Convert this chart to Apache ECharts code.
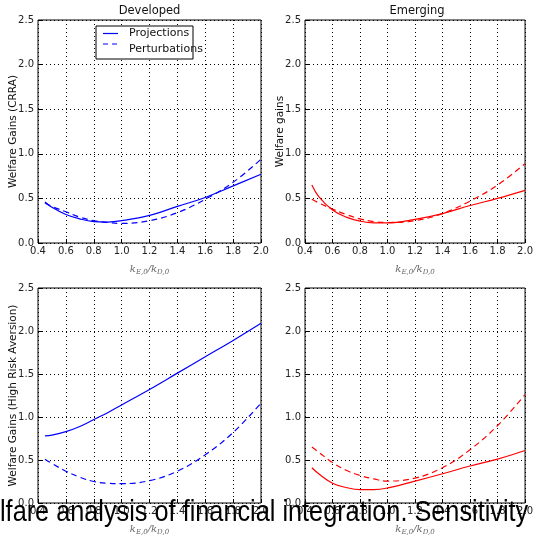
<!DOCTYPE html>
<html><head><meta charset="utf-8">
<script src="https://cdn.jsdelivr.net/npm/echarts@6/dist/echarts.min.js"></script>
<style>html,body{margin:0;padding:0;background:#fff}#c{width:536px;height:537px}</style>
</head><body><div id="c"></div>
<script>
// ratio k_E,0 / k_D,0
const xs = [0.45, 0.5, 0.6, 0.7, 0.8, 0.9, 1.0, 1.2, 1.4, 1.6, 1.8, 2.0];
// Developed, CRRA
const devCrraProj = [0.46, 0.40, 0.32, 0.27, 0.24, 0.235, 0.25, 0.31, 0.41, 0.51, 0.64, 0.77];
const devCrraPert = [0.45, 0.41, 0.35, 0.29, 0.25, 0.23, 0.22, 0.25, 0.34, 0.49, 0.68, 0.94];
// Emerging, CRRA
const emgCrraProj = [0.65, 0.52, 0.37, 0.29, 0.245, 0.225, 0.225, 0.265, 0.33, 0.42, 0.50, 0.59];
const emgCrraPert = [0.49, 0.45, 0.38, 0.32, 0.27, 0.24, 0.23, 0.25, 0.33, 0.47, 0.65, 0.89];
// Developed, high risk aversion
const devHraProj = [0.78, 0.79, 0.83, 0.89, 0.97, 1.05, 1.14, 1.32, 1.51, 1.70, 1.89, 2.09];
const devHraPert = [0.51, 0.46, 0.37, 0.30, 0.25, 0.23, 0.225, 0.26, 0.37, 0.56, 0.82, 1.16];
// Emerging, high risk aversion
const emgHraProj = [0.41, 0.34, 0.23, 0.18, 0.155, 0.155, 0.175, 0.255, 0.34, 0.43, 0.51, 0.61];
const emgHraPert = [0.65, 0.59, 0.47, 0.38, 0.32, 0.28, 0.255, 0.29, 0.41, 0.62, 0.90, 1.26];

const panelTitles = ['Developed', 'Emerging'];
const yNames = ['Welfare Gains (CRRA)', 'Welfare gains', 'Welfare Gains (High Risk Aversion)', ''];
const seriesNames = ['Projections', 'Perturbations'];

const FONT = 'DejaVu Sans';
const grids = [
  {left: 38, top: 20, width: 223, height: 223},
  {left: 305, top: 20, width: 224, height: 223},
  {left: 38, top: 288, width: 223, height: 223},
  {left: 305, top: 288, width: 224, height: 223}
];
const pair = a => xs.map((x, i) => [x, a[i]]);
const panels = [
  [devCrraProj, devCrraPert, '#0000ff'],
  [emgCrraProj, emgCrraPert, '#ff0000'],
  [devHraProj, devHraPert, '#0000ff'],
  [emgHraProj, emgHraPert, '#ff0000']
];
const DASH = [6, 4];
const dotted = {show: true, lineStyle: {color: '#000', type: [1, 3], width: 1}};
const xAxis = grids.map((g, i) => ({
  type: 'value', gridIndex: i, min: 0.4, max: 2.0, interval: 0.2,
  axisLine: {show: false}, axisTick: {show: true, inside: true, length: 4, lineStyle: {color: '#000'}},
  axisLabel: {fontFamily: FONT, fontSize: 10, color: '#222', margin: 3, formatter: v => v.toFixed(1)},
  splitLine: dotted,
  name: '{k|k}{s|E,0}{k|/k}{s|D,0}', nameLocation: 'middle', nameGap: 20, nameMoveOverlap: false,
  nameTextStyle: {rich: {
    k: {fontFamily: 'DejaVu Serif', fontStyle: 'italic', fontSize: 10, color: '#666'},
    s: {fontFamily: 'DejaVu Serif', fontStyle: 'italic', fontSize: 7, color: '#666', padding: [6, 0, 0, 0]}
  }}
}));
const yAxis = grids.map((g, i) => ({
  type: 'value', gridIndex: i, min: 0, max: 2.5, interval: 0.5,
  axisLine: {show: false}, axisTick: {show: true, inside: true, length: 4, lineStyle: {color: '#000'}},
  axisLabel: {fontFamily: FONT, fontSize: 10, color: '#222', margin: 4, formatter: v => v.toFixed(1)},
  splitLine: dotted,
  name: yNames[i], nameLocation: 'middle', nameGap: 19, nameRotate: 90, nameMoveOverlap: false,
  nameTextStyle: {fontFamily: FONT, fontSize: 10.5, color: '#111'}
}));
const series = [];
panels.forEach((p, i) => {
  series.push({type: 'line', name: seriesNames[0], xAxisIndex: i, yAxisIndex: i, data: pair(p[0]),
    smooth: 0.4, symbol: 'none', color: p[2], lineStyle: {color: p[2], width: 1.2}});
  series.push({type: 'line', name: seriesNames[1], xAxisIndex: i, yAxisIndex: i, data: pair(p[1]),
    smooth: 0.4, symbol: 'none', color: p[2], lineStyle: {color: p[2], width: 1.2, type: DASH}});
});
const chart = echarts.init(document.getElementById('c'));
chart.setOption({
  animation: false,
  backgroundColor: '#fff',
  grid: grids.map(g => Object.assign({show: true, borderColor: '#000', borderWidth: 1, backgroundColor: 'transparent'}, g)),
  xAxis, yAxis, series,
  graphic: [
    {type: 'text', x: 149.5, y: 11, style: {text: panelTitles[0], fontFamily: FONT, fontSize: 11.5, fill: '#111', textAlign: 'center', textVerticalAlign: 'middle'}},
    {type: 'text', x: 417, y: 11, style: {text: panelTitles[1], fontFamily: FONT, fontSize: 11.5, fill: '#111', textAlign: 'center', textVerticalAlign: 'middle'}},
    // legend box
    {type: 'rect', z: 50, shape: {x: 96, y: 26, width: 97, height: 33}, style: {fill: '#fff', stroke: '#000', lineWidth: 1}},
    {type: 'line', z: 51, shape: {x1: 103, y1: 33.5, x2: 118, y2: 33.5}, style: {stroke: '#0000ff', lineWidth: 1.2}},
    {type: 'line', z: 51, shape: {x1: 103, y1: 44, x2: 118, y2: 44}, style: {stroke: '#0000ff', lineWidth: 1.2, lineDash: [5, 4]}},
    {type: 'text', z: 51, x: 129, y: 33.5, style: {text: seriesNames[0], fontFamily: FONT, fontSize: 11, fill: '#111', textVerticalAlign: 'middle'}},
    {type: 'text', z: 51, x: 129, y: 49, style: {text: seriesNames[1], fontFamily: FONT, fontSize: 11, fill: '#111', textVerticalAlign: 'middle'}},
    // overlaid caption fragment
    {type: 'text', x: 0, y: 527, z: 100, scaleX: 1.011, scaleY: 1.15, style: {text: 'lfare analysis of financial integration. Sensitivity', fontFamily: 'Liberation Sans', fontSize: 25, fill: '#000', textVerticalAlign: 'bottom'}}
  ]
});
</script></body></html>
